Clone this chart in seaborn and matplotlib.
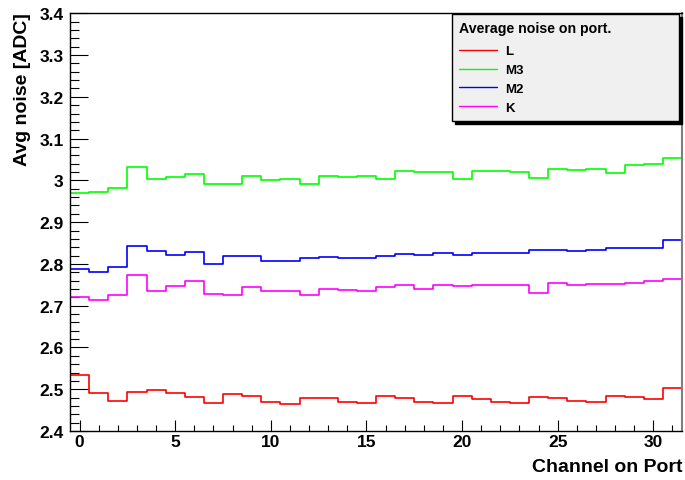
import numpy as np
import pandas as pd
import matplotlib
matplotlib.use("Agg")
import matplotlib.pyplot as plt
import seaborn as sns
from matplotlib.ticker import MultipleLocator, FormatStrFormatter
from matplotlib.lines import Line2D

# Average noise per channel for each port
channels = list(range(32))
noise_L = [2.534, 2.491, 2.472, 2.493, 2.497, 2.491, 2.481, 2.468,
           2.488, 2.484, 2.470, 2.465, 2.480, 2.479, 2.469, 2.467,
           2.483, 2.479, 2.470, 2.466, 2.483, 2.477, 2.469, 2.467,
           2.482, 2.479, 2.471, 2.469, 2.483, 2.481, 2.477, 2.504]
noise_M3 = [2.970, 2.972, 2.981, 3.031, 3.003, 3.008, 3.015, 2.991,
            2.991, 3.011, 3.001, 3.003, 2.991, 3.011, 3.007, 3.011,
            3.003, 3.022, 3.019, 3.019, 3.004, 3.022, 3.022, 3.020,
            3.006, 3.028, 3.025, 3.027, 3.017, 3.036, 3.039, 3.053]
noise_M2 = [2.789, 2.781, 2.793, 2.843, 2.830, 2.822, 2.828, 2.801,
            2.818, 2.818, 2.808, 2.808, 2.814, 2.816, 2.814, 2.813,
            2.820, 2.823, 2.822, 2.825, 2.821, 2.827, 2.825, 2.825,
            2.833, 2.834, 2.830, 2.834, 2.837, 2.838, 2.838, 2.857]
noise_K = [2.720, 2.713, 2.725, 2.773, 2.734, 2.748, 2.759, 2.729,
           2.725, 2.745, 2.736, 2.736, 2.725, 2.740, 2.737, 2.736,
           2.745, 2.749, 2.741, 2.749, 2.746, 2.749, 2.749, 2.749,
           2.730, 2.755, 2.749, 2.752, 2.751, 2.754, 2.759, 2.765]

ports = ["L", "M3", "M2", "K"]
port_values = [noise_L, noise_M3, noise_M2, noise_K]
port_colors = ["#ff0000", "#00ff00", "#0000ff", "#ff00ff"]
palette = dict(zip(ports, port_colors))

df = pd.concat(
    [pd.DataFrame({"channel": channels, "noise": vals, "port": p})
     for p, vals in zip(ports, port_values)],
    ignore_index=True,
)

sns.set_theme(style="white")
plt.rcParams["font.family"] = ["Liberation Sans", "DejaVu Sans"]
plt.rcParams["font.weight"] = "bold"
plt.rcParams["text.color"] = "black"
plt.rcParams["axes.labelcolor"] = "black"
plt.rcParams["xtick.color"] = "black"
plt.rcParams["ytick.color"] = "black"

fig = plt.figure(figsize=(6.85, 4.81), dpi=100)
ax = fig.add_axes([70 / 685, 49 / 481, 612 / 685, 417.7 / 481])

sns.histplot(data=df, x="channel", weights="noise", hue="port",
             hue_order=ports, palette=palette, bins=len(channels),
             binrange=(-0.5, len(channels) - 0.5),
             element="step", fill=False, linewidth=1.2, legend=False, ax=ax)

ax.set_xlim(-0.5, 31.5)
ax.set_ylim(2.4, 3.4)

ax.xaxis.set_major_locator(MultipleLocator(5))
ax.xaxis.set_minor_locator(MultipleLocator(1))
ax.yaxis.set_major_locator(MultipleLocator(0.1))
ax.yaxis.set_minor_locator(MultipleLocator(0.02))
ax.yaxis.set_major_formatter(FormatStrFormatter("%g"))

ax.tick_params(axis="y", which="both", direction="in", left=True, right=False,
               colors="black", labelcolor="black", width=0.8, labelsize=12.5,
               pad=4.5)
ax.tick_params(axis="y", which="major", length=13)
ax.tick_params(axis="y", which="minor", length=6.5)
ax.tick_params(axis="x", which="both", direction="in", bottom=True, top=False,
               colors="black", labelcolor="black", width=0.8, labelsize=12.5,
               pad=2.5)
ax.tick_params(axis="x", which="major", length=8)
ax.tick_params(axis="x", which="minor", length=4.3)
for lbl in ax.get_xticklabels() + ax.get_yticklabels():
    lbl.set_fontweight("bold")

for side in ["left", "bottom", "top"]:
    ax.spines[side].set_color("black")
    ax.spines[side].set_linewidth(1.0)
ax.spines["right"].set_color("#808080")
ax.spines["right"].set_linewidth(1.5)

ax.set_ylabel("Avg noise [ADC]", fontsize=14, fontweight="bold", loc="top",
              color="black")
ax.yaxis.set_label_coords(-0.064, 1.004)
ax.set_xlabel("Channel on Port", fontsize=14, fontweight="bold", loc="right",
              color="black")
ax.xaxis.set_label_coords(1.0, -0.065)

handles = [Line2D([], [], color=c, linewidth=1.0) for c in port_colors]
leg = ax.legend(handles, ports, title="Average noise on port.",
                loc="upper left", bbox_to_anchor=(0.624, 0.998, 0.371, 0.0),
                mode="expand", alignment="left",
                prop={"size": 9.5, "weight": "bold"},
                title_fontproperties={"size": 10.2, "weight": "bold"},
                handlelength=2.9, handletextpad=0.6, labelspacing=0.5,
                borderpad=0.55, borderaxespad=0.0, frameon=True,
                fancybox=False, framealpha=1.0,
                shadow={"color": "black", "alpha": 1.0})
leg.get_frame().set_facecolor("#f0f0f0")
leg.get_frame().set_edgecolor("black")
leg.get_frame().set_linewidth(1.0)
leg._legend_box.sep = 7
for t in leg.get_texts():
    t.set_color("black")
leg.get_title().set_color("black")

fig.savefig("out.png", dpi=100, facecolor="white")
